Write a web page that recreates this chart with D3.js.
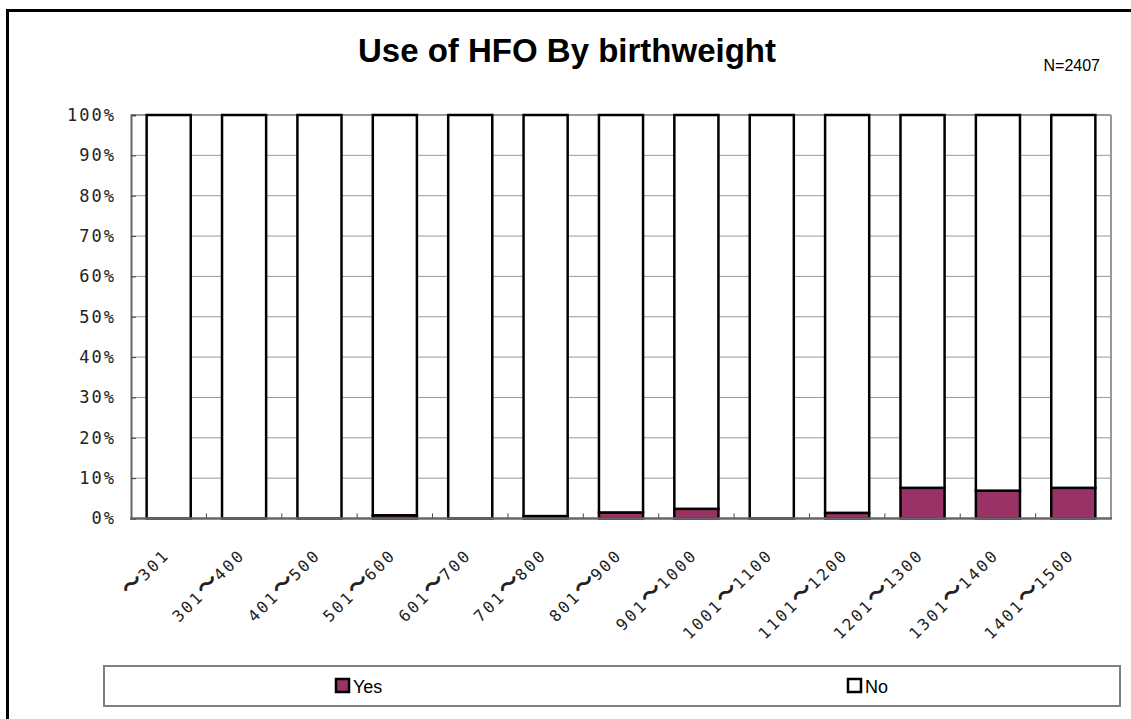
<!DOCTYPE html>
<html><head><meta charset="utf-8">
<script src="https://cdn.jsdelivr.net/npm/d3@7"></script>
<style>body{margin:0;background:#fff}svg{display:block}</style>
</head><body>
<script>
const categories = ["～301","301～400","401～500","501～600","601～700","701～800","801～900","901～1000","1001～1100","1101～1200","1201～1300","1301～1400","1401～1500"];
const yesValues = [0,0,0,0.8,0,0.6,1.5,2.4,0,1.4,7.6,6.9,7.6];
const noValues = yesValues.map(v => 100 - v);
const yTicks = [0,10,20,30,40,50,60,70,80,90,100];
const seriesNames = ["Yes","No"];
const seriesColors = ["#993366","#ffffff"];

const W = 1131, H = 719;
const svg = d3.select("body").append("svg").attr("width", W).attr("height", H);
svg.append("rect").attr("width", W).attr("height", H).attr("fill", "#fff");
// outer frame
svg.append("rect").attr("x", 7.5).attr("y", 10.5).attr("width", W + 10).attr("height", H + 10)
  .attr("fill", "none").attr("stroke", "#000").attr("stroke-width", 3);

const L = 131, R = 1111, T = 115, B = 518.5;
const x = d3.scaleBand().domain(categories).range([L, R]).paddingInner(0.415).paddingOuter(0.2075);
const y = d3.scaleLinear().domain([0, 100]).range([B, T]);

const monoFont = "'DejaVu Sans Mono', monospace";
const cjkFont = "'Noto Sans CJK JP', 'Noto Sans CJK SC', sans-serif";

// gridlines
svg.append("g").selectAll("line").data(yTicks).join("line")
  .attr("x1", L).attr("x2", R).attr("y1", d => y(d)).attr("y2", d => y(d))
  .attr("stroke", "#999").attr("stroke-width", 1);
// plot border right & top
svg.append("line").attr("x1", R).attr("x2", R).attr("y1", T).attr("y2", B).attr("stroke", "#999").attr("stroke-width", 2);
svg.append("line").attr("x1", L).attr("x2", R).attr("y1", T).attr("y2", T).attr("stroke", "#999").attr("stroke-width", 2);

// y axis
const yAxis = d3.axisLeft(y).tickValues(yTicks).tickSize(-5).tickPadding(17).tickFormat(d => d + "%");
const gy = svg.append("g").attr("transform", `translate(${L},0)`).call(yAxis);
gy.select(".domain").attr("stroke", "#666").attr("stroke-width", 2);
gy.selectAll(".tick line").attr("stroke", "#444");
gy.selectAll("text").attr("font-family", monoFont).attr("font-size", 17)
  .attr("letter-spacing", 2).attr("fill", "#222").attr("dx", 2);

// bars
const stackData = categories.map((c, i) => ({cat: c, Yes: yesValues[i], No: noValues[i]}));
const stack = d3.stack().keys(seriesNames)(stackData);
svg.append("g").selectAll("g").data(stack).join("g")
  .attr("fill", (d, i) => seriesColors[i])
  .selectAll("rect").data(d => d.map(p => ({p, cat: p.data.cat}))).join("rect")
  .attr("x", d => x(d.cat)).attr("width", x.bandwidth())
  .attr("y", d => y(d.p[1])).attr("height", d => y(d.p[0]) - y(d.p[1]))
  .attr("stroke", "#000").attr("stroke-width", 2.5);

// x axis
const boundaries = categories.slice(1).map(c => x(c) - x.step() * x.paddingInner() / 2);
svg.append("g").selectAll("line").data(boundaries).join("line")
  .attr("x1", d => d).attr("x2", d => d).attr("y1", B).attr("y2", B - 5)
  .attr("stroke", "#444").attr("stroke-width", 1);
svg.append("line").attr("x1", L - 1).attr("x2", R + 1).attr("y1", B).attr("y2", B)
  .attr("stroke", "#666").attr("stroke-width", 2.5);

const xl = svg.append("g").selectAll("text").data(categories).join("text")
  .attr("transform", d => `translate(${x(d) + x.bandwidth() / 2 + 2},556) rotate(-45)`)
  .attr("text-anchor", "end")
  .attr("font-family", monoFont).attr("font-size", 16)
  .attr("letter-spacing", 2.5).attr("fill", "#222");
xl.each(function(d) {
  const t = d3.select(this);
  d.split(/(～)/).filter(s => s.length).forEach(part => {
    const ts = t.append("tspan").text(part);
    if (part === "～") ts.attr("font-family", cjkFont).attr("font-size", 22)
      .attr("font-weight", "bold").attr("letter-spacing", 0);
  });
});

// title
svg.append("text").attr("x", 567).attr("y", 62).attr("text-anchor", "middle")
  .attr("font-family", "'Liberation Sans', Arial, sans-serif").attr("font-weight", "bold")
  .attr("font-size", 33).attr("fill", "#000").text("Use of HFO By birthweight");
svg.append("text").attr("x", 1100).attr("y", 71).attr("text-anchor", "end")
  .attr("font-family", "'Liberation Sans', Arial, sans-serif").attr("font-size", 16)
  .attr("fill", "#000").text("N=2407");

// legend
svg.append("rect").attr("x", 104).attr("y", 666).attr("width", 1016).attr("height", 40)
  .attr("fill", "#fff").attr("stroke", "#808080").attr("stroke-width", 2);
const legendX = [336, 848];
const lg = svg.append("g").selectAll("g").data(seriesNames).join("g")
  .attr("transform", (d, i) => `translate(${legendX[i]},679)`);
lg.append("rect").attr("x", 0).attr("y", 0).attr("width", 13).attr("height", 13)
  .attr("fill", (d, i) => seriesColors[i]).attr("stroke", "#000").attr("stroke-width", 2.5);
lg.append("text").attr("x", 17).attr("y", 14).attr("font-family", "'Liberation Sans', Arial, sans-serif")
  .attr("font-size", 18).attr("fill", "#000").text(d => d);
</script>
</body></html>
